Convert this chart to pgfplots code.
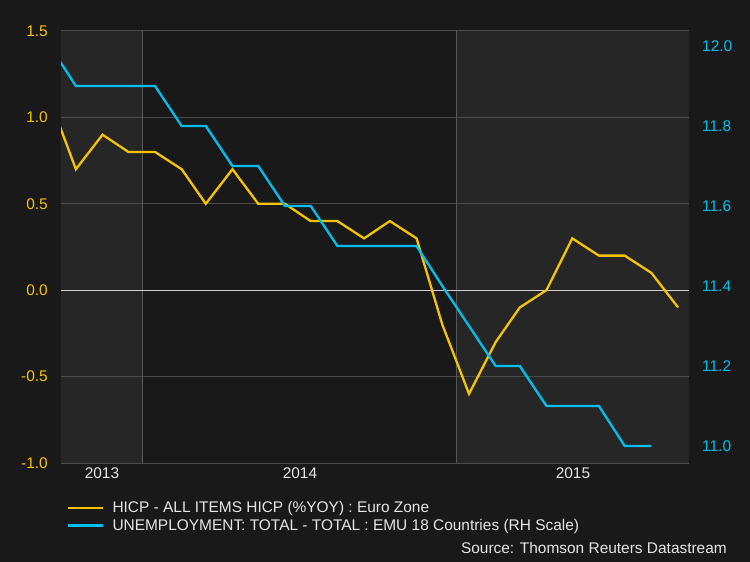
\documentclass[border=0pt]{standalone}
\usepackage{pgfplots}
\pgfplotsset{compat=1.18}
\usepackage{fontspec}
\setmainfont{Liberation Sans}
\definecolor{bgc}{HTML}{191919}
\definecolor{shadec}{HTML}{262626}
\definecolor{gridc}{HTML}{4B4B4B}
\definecolor{vlinec}{HTML}{575757}
\definecolor{zeroc}{HTML}{D0D0D0}
\definecolor{hicp}{HTML}{F5C300}
\definecolor{unemp}{HTML}{00BFEF}
\definecolor{txtc}{HTML}{E6E6E6}
\pgfplotstableread{
d v
-108 1.1
-78 0.7
-47 0.9
-17 0.8
14 0.8
45 0.7
73 0.5
104 0.7
134 0.5
165 0.5
195 0.4
226 0.4
257 0.3
287 0.4
318 0.3
348 -0.2
379 -0.6
410 -0.3
438 -0.1
469 0.0
499 0.3
530 0.2
560 0.2
591 0.1
622 -0.1
}\hicptab
\pgfplotstableread{
d v
-108 12.0
-78 11.9
-47 11.9
-17 11.9
14 11.9
45 11.8
73 11.8
104 11.7
134 11.7
165 11.6
195 11.6
226 11.5
257 11.5
287 11.5
318 11.5
348 11.4
379 11.3
410 11.2
438 11.2
469 11.1
499 11.1
530 11.1
560 11.0
591 11.0
}\unemptab
\begin{document}
\begin{tikzpicture}
\fill[bgc] (0,0) rectangle (750bp,562bp);
\pgfplotsset{
  common/.style={
    at={(61bp,99bp)}, anchor=south west,
    scale only axis, width=628bp, height=432bp,
    xmin=-95.3, xmax=634.7,
    clip=true,
    major tick length=0pt,
    tick label style={font=\fontsize{15.5}{18}\selectfont, inner sep=0pt},
    /pgf/number format/assume math mode=true,
  }
}
\begin{axis}[common,
  ymin=-1, ymax=1.5,
  hide axis,
]
\addplot[fill=shadec, draw=none] coordinates {(-95.3,-1) (0,-1) (0,1.5) (-95.3,1.5) (-95.3,-1)};
\addplot[fill=shadec, draw=none] coordinates {(365,-1) (634.7,-1) (634.7,1.5) (365,1.5) (365,-1)};
\end{axis}
\begin{axis}[common,
  ymin=-1, ymax=1.5,
  ytick={-1,-0.5,0,0.5,1,1.5},
  yticklabel style={/pgf/number format/fixed, /pgf/number format/fixed zerofill, /pgf/number format/precision=1, text=hicp, anchor=east, xshift=-13bp},
  ymajorgrids, grid style={gridc, line width=1pt},
  xtick={-47.65,182.5,499.85},
  xticklabels={2013,2014,2015},
  xticklabel style={text=txtc, anchor=north, yshift=-5bp},
  extra x ticks={0,365}, extra x tick labels={},
  extra x tick style={grid=major, grid style={vlinec, line width=1pt}},
  extra y ticks={0}, extra y tick labels={},
  extra y tick style={grid=major, grid style={zeroc, line width=1pt}},
  axis line style={draw=none},
]
\addplot[gridc, line width=1pt, no marks] coordinates {(-95.3,-1) (634.7,-1)};
\addplot[hicp, line width=2.3bp, no marks] table[x=d, y=v] {\hicptab};
\end{axis}
\begin{axis}[common,
  ymin=10.9575, ymax=12.0375,
  ytick={11,11.2,11.4,11.6,11.8,12},
  yticklabel style={/pgf/number format/fixed, /pgf/number format/fixed zerofill, /pgf/number format/precision=1, text=unemp, anchor=west, xshift=13bp},
  xtick=\empty,
  yticklabel pos=right,
  axis line style={draw=none},
  legend style={at={(axis description cs:0.0096,-0.083)}, anchor=north west, draw=none, fill=none, text=txtc, font=\fontsize{15.5}{18}\selectfont, inner sep=0pt, row sep=0pt, nodes={inner xsep=8bp, inner ysep=2.5bp}},
  legend cell align=left,
  legend image code/.code={\draw[#1] (0bp,0bp) -- (35bp,0bp);},
]
\addlegendimage{hicp, line width=2.3bp}
\addlegendentry{HICP - ALL ITEMS HICP (\%YOY) : Euro Zone}
\addplot[unemp, line width=2.3bp, no marks] table[x=d, y=v] {\unemptab};
\addlegendentry{UNEMPLOYMENT: TOTAL - TOTAL : EMU 18 Countries (RH Scale)}
\end{axis}
\node[anchor=east, text=txtc, font=\fontsize{15.5}{18}\selectfont, inner sep=0pt] at (727bp,14bp) {Source: Thomson Reuters Datastream};
\useasboundingbox (0,0) rectangle (750bp,562bp);
\end{tikzpicture}
\end{document}
